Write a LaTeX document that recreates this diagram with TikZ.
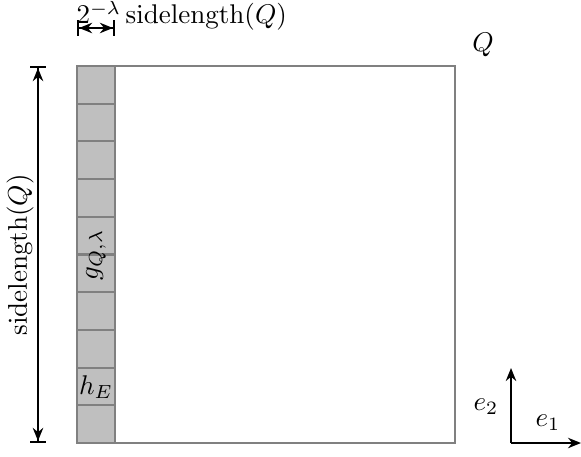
\documentclass[tikz,border=0pt]{standalone}
\usetikzlibrary{arrows.meta}
\begin{document}
\begin{tikzpicture}[x=0.3845pt,y=-0.3845pt,
  cell/.style={draw=gray,fill=gray!50,line width=0.8pt},
  sq/.style={draw=gray,line width=0.8pt},
  dim/.style={line width=0.8pt,{Bar[width=6pt]Stealth[length=5pt,width=4pt]}-{Stealth[length=5pt,width=4pt]Bar[width=6pt]}},
  ax/.style={line width=0.8pt,-{Stealth[length=5pt,width=4pt]}},
  lbl/.style={inner sep=0pt,scale=1.04}]
\useasboundingbox (0,0) rectangle (581,457);
\draw[sq] (77,66) rectangle (455,443);
\foreach \i in {0,...,9}{
  \draw[cell] (77,{66+\i*37.7}) rectangle (115,{66+(\i+1)*37.7});
}
\node[lbl,rotate=90] (g) at (96,255) {$g_{Q,\lambda}$};
\node[lbl] (h) at (96,387) {$h_E$};
% top dimension
\coordinate (ta) at (77,28);
\coordinate (tb) at (115,28);
\draw[dim] (ta) -- (tb);
\node[lbl,anchor=base west] (tl) at (76,24) {$2^{-\lambda}\,\mathrm{sidelength}(Q)$};
% left dimension
\coordinate (la) at (38,66);
\coordinate (lb) at (38,443);
\draw[dim] (la) -- (lb);
\node[lbl,rotate=90] (ll) at (20,255) {$\mathrm{sidelength}(Q)$};
\node[lbl] (Q) at (483,45) {$Q$};
% axes
\coordinate (o) at (511,443);
\coordinate (ye) at (511,368);
\coordinate (xe) at (581,443);
\draw[ax] (o) -- (ye);
\draw[ax] (o) -- (xe);
\node[lbl] (e2) at (486,407) {$e_2$};
\node[lbl] (e1) at (548,423) {$e_1$};
\end{tikzpicture}
\end{document}
